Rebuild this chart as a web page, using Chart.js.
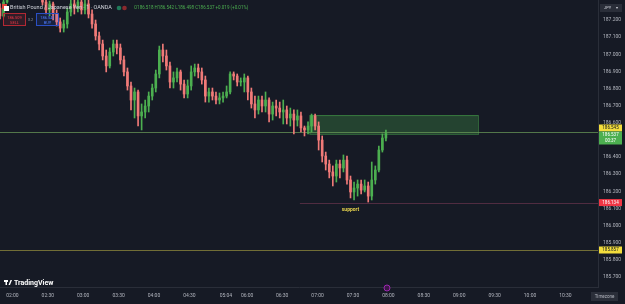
<!DOCTYPE html>
<html>
<head>
<meta charset="utf-8">
<script src="https://cdn.jsdelivr.net/npm/chart.js@4.4.1/dist/chart.umd.min.js"></script>
<style>
  html, body { margin: 0; padding: 0; background: #161a25; }
  #wrap { width: 625px; height: 304px; }
</style>
</head>
<body>
<div id="wrap"><canvas id="chart" width="625" height="304"></canvas></div>
<script>
//GBPJPY 3 min bars, slot = bar index on the time axis
const opens = [187.270,187.224,187.305,187.387,187.434,187.405,187.481,187.445,187.492,187.457,
  187.422,187.375,187.340,187.305,187.259,187.294,187.235,187.189,187.153,187.177,
  187.247,187.294,187.270,187.305,187.259,187.294,187.235,187.177,187.107,187.060,
  186.990,186.932,187.013,187.060,187.037,186.967,186.897,186.815,186.733,186.780,
  186.640,186.663,186.698,186.756,186.803,186.885,187.025,186.990,186.932,186.838,
  186.862,186.897,186.826,186.768,186.815,186.897,186.920,186.897,186.850,186.756,
  186.780,186.756,186.733,186.745,186.756,186.780,186.885,186.873,186.838,186.838,
  186.862,186.780,186.710,186.675,186.733,186.698,186.733,186.651,186.698,186.686,
  186.663,186.675,186.628,186.651,186.616,186.640,186.570,186.558,186.581,186.640,
  186.581,186.499,186.406,186.359,186.313,186.289,186.359,186.336,186.382,186.266,
  186.196,186.219,186.242,186.207,186.231,186.172,186.266,186.324,186.441,186.511];
const highs = [187.294,187.329,187.405,187.457,187.469,187.504,187.510,187.521,187.516,187.481,
  187.445,187.399,187.364,187.329,187.311,187.305,187.259,187.212,187.200,187.270,
  187.317,187.329,187.340,187.335,187.329,187.317,187.259,187.200,187.130,187.083,
  187.025,187.037,187.083,187.083,187.060,186.990,186.920,186.838,186.803,186.791,
  186.710,186.733,186.780,186.826,186.908,187.048,187.060,187.025,186.955,186.897,
  186.920,186.908,186.850,186.850,186.932,186.943,186.943,186.920,186.873,186.803,
  186.803,186.780,186.774,186.780,186.815,186.897,186.897,186.885,186.862,186.885,
  186.873,186.803,186.756,186.756,186.756,186.780,186.745,186.721,186.733,186.721,
  186.733,186.698,186.686,186.675,186.675,186.663,186.581,186.605,186.651,186.651,
  186.605,186.523,186.429,186.382,186.348,186.382,186.382,186.412,186.406,186.289,
  186.254,186.266,186.266,186.266,186.254,186.371,186.348,186.464,186.535,186.558];
const lows = [187.206,187.218,187.299,187.375,187.387,187.393,187.422,187.434,187.434,187.399,
  187.352,187.323,187.288,187.235,187.224,187.200,187.165,187.130,187.130,187.153,
  187.224,187.235,187.247,187.235,187.235,187.212,187.153,187.083,187.025,186.967,
  186.897,186.920,186.990,187.002,186.943,186.873,186.791,186.675,186.628,186.581,
  186.558,186.628,186.663,186.733,186.780,186.862,186.955,186.908,186.803,186.803,
  186.838,186.791,186.745,186.745,186.791,186.873,186.862,186.826,186.721,186.721,
  186.733,186.710,186.710,186.721,186.745,186.768,186.850,186.815,186.815,186.780,
  186.733,186.686,186.628,186.651,186.663,186.663,186.605,186.616,186.640,186.628,
  186.593,186.593,186.581,186.535,186.581,186.546,186.523,186.535,186.546,186.558,
  186.441,186.371,186.324,186.278,186.231,186.254,186.278,186.313,186.242,186.161,
  186.149,186.172,186.184,186.196,186.137,186.149,186.242,186.313,186.429,186.494];
const closes = [187.224,187.305,187.387,187.434,187.405,187.481,187.445,187.492,187.457,187.422,
  187.375,187.340,187.305,187.259,187.294,187.235,187.189,187.153,187.177,187.247,
  187.294,187.270,187.305,187.259,187.294,187.235,187.177,187.107,187.060,186.990,
  186.932,187.013,187.060,187.037,186.967,186.897,186.815,186.733,186.780,186.640,
  186.663,186.698,186.756,186.803,186.885,187.025,186.990,186.932,186.838,186.862,
  186.897,186.826,186.768,186.815,186.897,186.920,186.897,186.850,186.756,186.780,
  186.756,186.733,186.745,186.756,186.780,186.885,186.873,186.838,186.838,186.862,
  186.780,186.710,186.675,186.733,186.698,186.733,186.651,186.698,186.686,186.663,
  186.675,186.628,186.651,186.616,186.640,186.570,186.558,186.581,186.640,186.581,
  186.499,186.406,186.359,186.313,186.289,186.359,186.336,186.382,186.266,186.196,
  186.219,186.242,186.207,186.231,186.172,186.266,186.324,186.441,186.511,186.537];

//time axis labels and where they sit (in bar slots)
const tickLabels = ['02:00','02:30','03:00','03:30','04:00','04:30','05:04','06:00','06:30',
  '07:00','07:30','08:00','08:30','09:00','09:30','10:00','10:30'];
const tickSlots = [3.5,13.5,23.5,33.5,43.5,53.5,63.8,69.8,79.7,89.7,99.7,109.7,119.7,129.7,139.7,149.7,159.7];

//drawings on the chart
const zonePrices = [186.645, 186.535];
const zoneSlots = [87.4, 135];
const upperLine = 186.545;
const supportLine = 186.134;
const supportStart = 84.7;
const lowerLine = 185.857;

const up = '#4caf50';
const down = '#f07a78';

const slots = closes.map((c, i) => i);
const isUp = closes.map((c, i) => c >= opens[i]);

//wicks and bodies as floating bars
const wickData = slots.map(i => ({x: i, y: [lows[i], highs[i]]}));
const bodyData = slots.map(i => ({x: i, y: [opens[i], closes[i]]}));

function label(ctx, text, x, y, bg, fg, w, h) {
  ctx.fillStyle = bg;
  ctx.fillRect(x, y - h / 2, w, h);
  ctx.fillStyle = fg;
  ctx.font = '4.5px Roboto';
  ctx.textAlign = 'center';
  ctx.textBaseline = 'middle';
  ctx.fillText(text, x + w / 2, y + 0.3);
}

const overlay = {
  id: 'overlay',
  beforeDatasetsDraw(chart) {
    const {ctx, chartArea, scales: {x, y}} = chart;
    ctx.save();
    //zona verde
    const zx1 = x.getPixelForValue(zoneSlots[0]), zx2 = x.getPixelForValue(zoneSlots[1]);
    const zy1 = y.getPixelForValue(zonePrices[0]), zy2 = y.getPixelForValue(zonePrices[1]);
    ctx.fillStyle = 'rgba(76,175,80,0.28)';
    ctx.fillRect(zx1, zy1, zx2 - zx1, zy2 - zy1);
    ctx.strokeStyle = 'rgba(76,175,80,0.5)';
    ctx.lineWidth = 1;
    ctx.strokeRect(zx1 + 0.5, zy1 + 0.5, zx2 - zx1, zy2 - zy1);
    //lineas horizontales
    const hl = (p, x0, color) => {
      const py = Math.round(y.getPixelForValue(p)) + 0.5;
      ctx.strokeStyle = color;
      ctx.beginPath();
      ctx.moveTo(x0, py);
      ctx.lineTo(chartArea.right, py);
      ctx.stroke();
    };
    hl(upperLine, chartArea.left, 'rgba(110,160,90,0.7)');
    hl(supportLine, x.getPixelForValue(supportStart), 'rgba(130,60,90,0.55)');
    hl(lowerLine, chartArea.left, 'rgba(190,180,70,0.55)');
    ctx.restore();
  },
  afterDraw(chart) {
    const {ctx, chartArea, scales: {x, y}} = chart;
    ctx.save();
    //texto support
    ctx.fillStyle = '#e8d44d';
    ctx.font = 'bold 5px Roboto';
    ctx.textAlign = 'center';
    ctx.textBaseline = 'middle';
    ctx.fillText('support', x.getPixelForValue(99), y.getPixelForValue(supportLine) + 7);

    //etiquetas de precio en el eje
    const ax = chartArea.right + 1;
    label(ctx, '186.545', ax, 128, '#f2dc3c', '#131722', 23, 7);
    ctx.fillStyle = up;
    ctx.fillRect(ax, 131.5, 23, 13);
    ctx.fillStyle = '#ffffff';
    ctx.font = '4.5px Roboto';
    ctx.textAlign = 'center';
    ctx.fillText('186.537', ax + 11.5, 135);
    ctx.fillText('00:37', ax + 11.5, 141);
    label(ctx, '186.134', ax, y.getPixelForValue(supportLine), '#f23645', '#ffffff', 23, 7);
    label(ctx, '185.857', ax, y.getPixelForValue(lowerLine), '#f2dc3c', '#131722', 23, 7);

    //JPY
    ctx.fillStyle = '#2a2e39';
    ctx.fillRect(600, 4, 22, 8);
    ctx.fillStyle = '#d1d4dc';
    ctx.font = '4px Roboto';
    ctx.textAlign = 'left';
    ctx.fillText('JPY', 604, 8.3);
    ctx.fillText('▾', 616, 8.3);

    //cabecera
    ctx.fillStyle = '#e0463a';
    ctx.fillRect(2, 4, 5, 5);
    ctx.fillStyle = '#ffffff';
    ctx.fillRect(4, 6, 5, 5);
    ctx.fillStyle = '#d1d4dc';
    ctx.font = '5.5px Roboto';
    ctx.textAlign = 'left';
    ctx.fillText('British Pound / Japanese Yen · 1 · OANDA', 10, 8);
    ctx.fillStyle = '#1f7a5a';
    ctx.beginPath(); ctx.arc(119, 8, 2.3, 0, Math.PI * 2); ctx.fill();
    ctx.fillStyle = '#8a2a2e';
    ctx.beginPath(); ctx.arc(124.5, 8, 2.3, 0, Math.PI * 2); ctx.fill();
    ctx.fillStyle = up;
    ctx.font = '4.5px Roboto';
    ctx.fillText('O186.518 H186.542 L186.498 C186.537 +0.019 (+0.01%)', 134, 8);

    //botones SELL / BUY
    ctx.fillStyle = 'rgba(242,54,69,0.12)';
    ctx.fillRect(3, 13, 23, 13);
    ctx.strokeStyle = '#b22833';
    ctx.strokeRect(3.5, 13.5, 22, 12);
    ctx.fillStyle = 'rgba(41,98,255,0.12)';
    ctx.fillRect(36, 13, 23, 13);
    ctx.strokeStyle = '#2a4fc4';
    ctx.strokeRect(36.5, 13.5, 22, 12);
    ctx.textAlign = 'center';
    ctx.font = '4px Roboto';
    ctx.fillStyle = '#f23645';
    ctx.fillText('186.509', 14.5, 17.5);
    ctx.fillText('SELL', 14.5, 22.5);
    ctx.fillStyle = '#4d7cff';
    ctx.fillText('186.541', 47.5, 17.5);
    ctx.fillText('BUY', 47.5, 22.5);
    ctx.fillStyle = '#9598a1';
    ctx.fillText('3.2', 30.5, 20);

    //logo
    ctx.fillStyle = '#ffffff';
    ctx.font = 'bold 7px Roboto';
    ctx.textAlign = 'left';
    ctx.fillText('TradingView', 14, 283);
    ctx.fillRect(4, 280, 4, 2);
    ctx.fillRect(5.5, 280, 1.5, 5);
    ctx.beginPath();
    ctx.moveTo(8.5, 285); ctx.lineTo(10.5, 280); ctx.lineTo(12, 280); ctx.lineTo(10, 285);
    ctx.fill();

    //icono morado abajo
    ctx.strokeStyle = '#9c27b0';
    ctx.fillStyle = '#3b1846';
    ctx.beginPath(); ctx.arc(387, 288, 3, 0, Math.PI * 2); ctx.fill(); ctx.stroke();

    //boton Timezone
    ctx.fillStyle = '#2a2e39';
    ctx.fillRect(591, 292, 27, 9);
    ctx.fillStyle = '#b2b5be';
    ctx.font = '4.5px Roboto';
    ctx.textAlign = 'center';
    ctx.fillText('Timezone', 604.5, 296.8);
    ctx.restore();
  }
};

let ctx = document.getElementById('chart');
let chart = new Chart(ctx, {
  type: 'bar',
  data: {
    datasets: [{
      data: wickData,
      backgroundColor: slots.map(i => isUp[i] ? up : down),
      barThickness: 1,
      grouped: false,
      order: 2
    }, {
      data: bodyData,
      backgroundColor: slots.map(i => isUp[i] ? up : down),
      barThickness: 2,
      minBarLength: 1,
      grouped: false,
      order: 1
    }]
  },
  options: {
    responsive: false,
    animation: false,
    devicePixelRatio: 1,
    layout: { padding: 0 },
    plugins: { legend: { display: false }, tooltip: { enabled: false } },
    scales: {
      x: {
        type: 'linear',
        min: 0,
        max: 168.9,
        offset: false,
        grid: { display: false, drawTicks: false },
        border: { color: '#2a2e39' },
        afterBuildTicks: (axis) => { axis.ticks = tickSlots.map(v => ({value: v})); },
        afterFit: (axis) => { axis.height = 17; axis.paddingLeft = 0; axis.paddingRight = 0; },
        ticks: {
          autoSkip: false,
          maxRotation: 0,
          padding: 6,
          color: '#b2b5be',
          font: { size: 5, family: 'Roboto' },
          callback: (v, i) => tickLabels[i]
        }
      },
      y: {
        position: 'right',
        min: 185.641,
        max: 187.317,
        grid: { display: false, drawTicks: false },
        border: { color: '#2a2e39' },
        afterBuildTicks: (axis) => { axis.ticks = axis.ticks.filter(t => t.value < 187.25); },
        //sin relleno arriba/abajo para que el area llegue al borde
        afterFit: (axis) => { axis.width = 27; axis.paddingTop = 0; axis.paddingBottom = 0; },
        ticks: {
          stepSize: 0.1,
          includeBounds: false,
          padding: 5,
          color: '#b2b5be',
          font: { size: 5, family: 'Roboto' },
          callback: (v) => v.toFixed(3)
        }
      }
    }
  },
  plugins: [overlay]
});
</script>
</body>
</html>
